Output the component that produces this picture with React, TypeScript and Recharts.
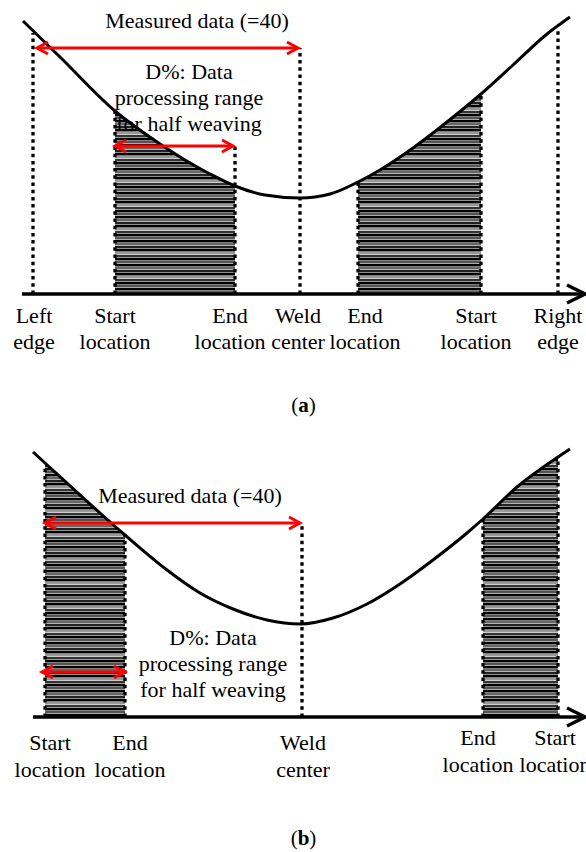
import React from 'react';
import { ComposedChart, XAxis, YAxis, Line, Area, ReferenceLine, ReferenceDot } from 'recharts';

const FONT = '"Liberation Serif", "Times New Roman", serif';

// (a) curve: position along the plate, height above the axis
const posA = [23, 60, 115, 160, 185, 210, 235, 265, 300, 330, 358, 380, 413, 447, 481, 513, 547, 570];
const curveA = [273, 237, 183, 150, 134, 120, 108, 99, 96, 100, 112, 124, 146, 172, 200, 229, 260, 277];
const hatchFromA = [115, 358];
const hatchToA = [235, 481];
const guideXA = [33, 115, 235, 300, 358, 481, 558];
const guideTopA = [261, 183, 148, 246, 112, 200, 266];
const arrowFromA = [37, 115];
const arrowToA = [298, 233];
const arrowAtA = [246, 148];
const tickXA = [34, 115, 230, 298, 365, 476, 558];
const tickTextA = [
  ['Left', 'edge'],
  ['Start', 'location'],
  ['End', 'location'],
  ['Weld', 'center'],
  ['End', 'location'],
  ['Start', 'location'],
  ['Right', 'edge'],
];
const noteXA = [197, 189];
const noteYA = [266, 215];

// (b)
const posB = [33, 45, 67, 100, 125, 167, 200, 233, 267, 300, 333, 367, 400, 433, 467, 483, 517, 558, 570];
const curveB = [265, 254, 234, 204, 182, 147, 124, 108, 97, 93, 99, 113, 133, 157, 184, 198, 230, 260, 268];
const hatchFromB = [45, 483];
const hatchToB = [125, 558];
const guideXB = [45, 125, 302, 483, 558];
const guideTopB = [252, 182, 192, 198, 260];
const arrowFromB = [45, 42];
const arrowToB = [300, 125];
const arrowAtB = [194, 45];
const tickXB = [50, 130, 303, 478, 555];
const tickTextB = [
  ['Start', 'location'],
  ['End', 'location'],
  ['Weld', 'center'],
  ['End', 'location'],
  ['Start', 'location'],
];
const noteXB = [190, 213];
const noteYB = [214, 72];

const noteText = [['Measured data (=40)'], ['D%: Data', 'processing range', 'for half weaving']];

// stripe shades of the hatching, top to bottom
const stripeShades = ['#000', '#666', '#222', '#000', '#999', '#333', '#000', '#555'];

const buildData = (pos: number[], curve: number[], from: number[], to: number[]) =>
  pos.map((x, i) => ({
    x,
    h: curve[i],
    hl: x >= from[0] && x <= to[0] ? curve[i] : null,
    hr: x >= from[1] && x <= to[1] ? curve[i] : null,
  }));

const chevron = (x: number, y: number, dir: number, len: number, half: number) =>
  `${x - dir * len},${y - half} ${x},${y} ${x - dir * len},${y + half}`;

const redArrow = (p: any) => (
  <g>
    <line x1={p.x1} y1={p.y1} x2={p.x2} y2={p.y2} stroke="#ff0000" strokeWidth={3} />
    <polyline points={chevron(p.x2, p.y2, 1, 11, 6)} fill="none" stroke="#ff0000" strokeWidth={3} />
    <polyline points={chevron(p.x1, p.y1, -1, 11, 6)} fill="none" stroke="#ff0000" strokeWidth={3} />
  </g>
);

const axisArrow = (p: any) => (
  <g>
    <line x1={p.x1} y1={p.y1} x2={p.x2 - 2} y2={p.y2} stroke="#000" strokeWidth={3.5} />
    <polyline points={chevron(p.x2, p.y2, 1, 18, 9)} fill="none" stroke="#000" strokeWidth={3.5} />
  </g>
);

const noteShape = (lines: string[]) => (p: any) => (
  <text x={p.cx} y={p.cy} textAnchor="middle" fontFamily={FONT} fontSize={22} fill="#000">
    {lines.map((l, i) => (
      <tspan key={i} x={p.cx} dy={i ? 26 : 0}>
        {l}
      </tspan>
    ))}
  </text>
);

interface PanelProps {
  pos: number[];
  curve: number[];
  hatchFrom: number[];
  hatchTo: number[];
  guideX: number[];
  guideTop: number[];
  arrowFrom: number[];
  arrowTo: number[];
  arrowAt: number[];
  tickX: number[];
  tickText: string[][];
  tickRaise: number[];
  noteX: number[];
  noteY: number[];
  axisStart: number;
  axisHeight: number;
  yMax: number;
  line1: number;
  line2: number;
  captionDy: number;
  caption: string;
  id: string;
}

const Panel = (props: PanelProps) => {
  const data = buildData(props.pos, props.curve, props.hatchFrom, props.hatchTo);
  const renderTick = (t: any) => {
    const i = props.tickX.indexOf(t.payload.value);
    const lines = props.tickText[i] || ['', ''];
    const r = props.tickRaise[i] || 0;
    return (
      <text x={t.x} y={t.y} textAnchor="middle" fontFamily={FONT} fontSize={22} fill="#000">
        <tspan x={t.x} y={t.y + props.line1 - r}>{lines[0]}</tspan>
        <tspan x={t.x} y={t.y + props.line2 - r}>{lines[1]}</tspan>
      </text>
    );
  };
  return (
    <ComposedChart width={586} height={426} data={data} margin={{ top: 0, right: 1, left: 22, bottom: 0 }}>
      <defs>
        <pattern id={props.id} width={6} height={stripeShades.length * 3} patternUnits="userSpaceOnUse">
          {stripeShades.map((c, i) => (
            <rect key={i} x={0} y={i * 3} width={6} height={2.5} fill={c} />
          ))}
        </pattern>
      </defs>
      <XAxis
        dataKey="x"
        type="number"
        domain={[22, 585]}
        ticks={props.tickX}
        interval={0}
        height={props.axisHeight}
        axisLine={false}
        tickLine={false}
        tickSize={0}
        tickMargin={0}
        tick={renderTick}
        label={{
          content: (p: any) => {
            const vb = p.viewBox;
            return (
              <text x={vb.x + vb.width / 2} y={vb.y + props.captionDy} textAnchor="middle" fontFamily={FONT} fontSize={21} fill="#000">
                (<tspan fontWeight="bold">{props.caption}</tspan>)
              </text>
            );
          },
        }}
      />
      <YAxis type="number" domain={[0, props.yMax]} hide />
      <Area dataKey="hl" type="monotone" stroke="none" fill={`url(#${props.id})`} fillOpacity={1} isAnimationActive={false} />
      <Area dataKey="hr" type="monotone" stroke="none" fill={`url(#${props.id})`} fillOpacity={1} isAnimationActive={false} />
      {props.guideX.map((x, i) => (
        <ReferenceLine
          key={`g${i}`}
          segment={[{ x, y: 0 }, { x, y: props.guideTop[i] }]}
          stroke="#000"
          strokeWidth={3.3}
          strokeDasharray="3.5 3.7"
          ifOverflow="visible"
        />
      ))}
      <Line dataKey="h" type="monotone" stroke="#000" strokeWidth={3} dot={false} activeDot={false} isAnimationActive={false} />
      <ReferenceLine
        segment={[{ x: props.axisStart, y: 0 }, { x: 585, y: 0 }]}
        ifOverflow="visible"
        shape={axisArrow}
      />
      {props.arrowFrom.map((x, i) => (
        <ReferenceLine
          key={`a${i}`}
          segment={[{ x, y: props.arrowAt[i] }, { x: props.arrowTo[i], y: props.arrowAt[i] }]}
          ifOverflow="visible"
          shape={redArrow}
        />
      ))}
      {props.noteX.map((x, i) => (
        <ReferenceDot key={`n${i}`} x={x} y={props.noteY[i]} r={0} ifOverflow="visible" shape={noteShape(noteText[i])} />
      ))}
    </ComposedChart>
  );
};

export default function App() {
  return (
    <div style={{ position: 'absolute', left: 0, top: 0, width: 586, height: 852, background: '#fff', overflow: 'hidden' }}>
      <Panel
        id="hatchA"
        pos={posA}
        curve={curveA}
        hatchFrom={hatchFromA}
        hatchTo={hatchToA}
        guideX={guideXA}
        guideTop={guideTopA}
        arrowFrom={arrowFromA}
        arrowTo={arrowToA}
        arrowAt={arrowAtA}
        tickX={tickXA}
        tickText={tickTextA}
        tickRaise={[0, 0, 0, 0, 0, 0, 0]}
        noteX={noteXA}
        noteY={noteYA}
        axisStart={22}
        axisHeight={132}
        yMax={294}
        line1={29}
        line2={55}
        captionDy={118}
        caption="a"
      />
      <Panel
        id="hatchB"
        pos={posB}
        curve={curveB}
        hatchFrom={hatchFromB}
        hatchTo={hatchToB}
        guideX={guideXB}
        guideTop={guideTopB}
        arrowFrom={arrowFromB}
        arrowTo={arrowToB}
        arrowAt={arrowAtB}
        tickX={tickXB}
        tickText={tickTextB}
        tickRaise={[0, 0, 0, 5, 5]}
        noteX={noteXB}
        noteY={noteYB}
        axisStart={33}
        axisHeight={135}
        yMax={291}
        line1={33}
        line2={60}
        captionDy={128}
        caption="b"
      />
    </div>
  );
}
